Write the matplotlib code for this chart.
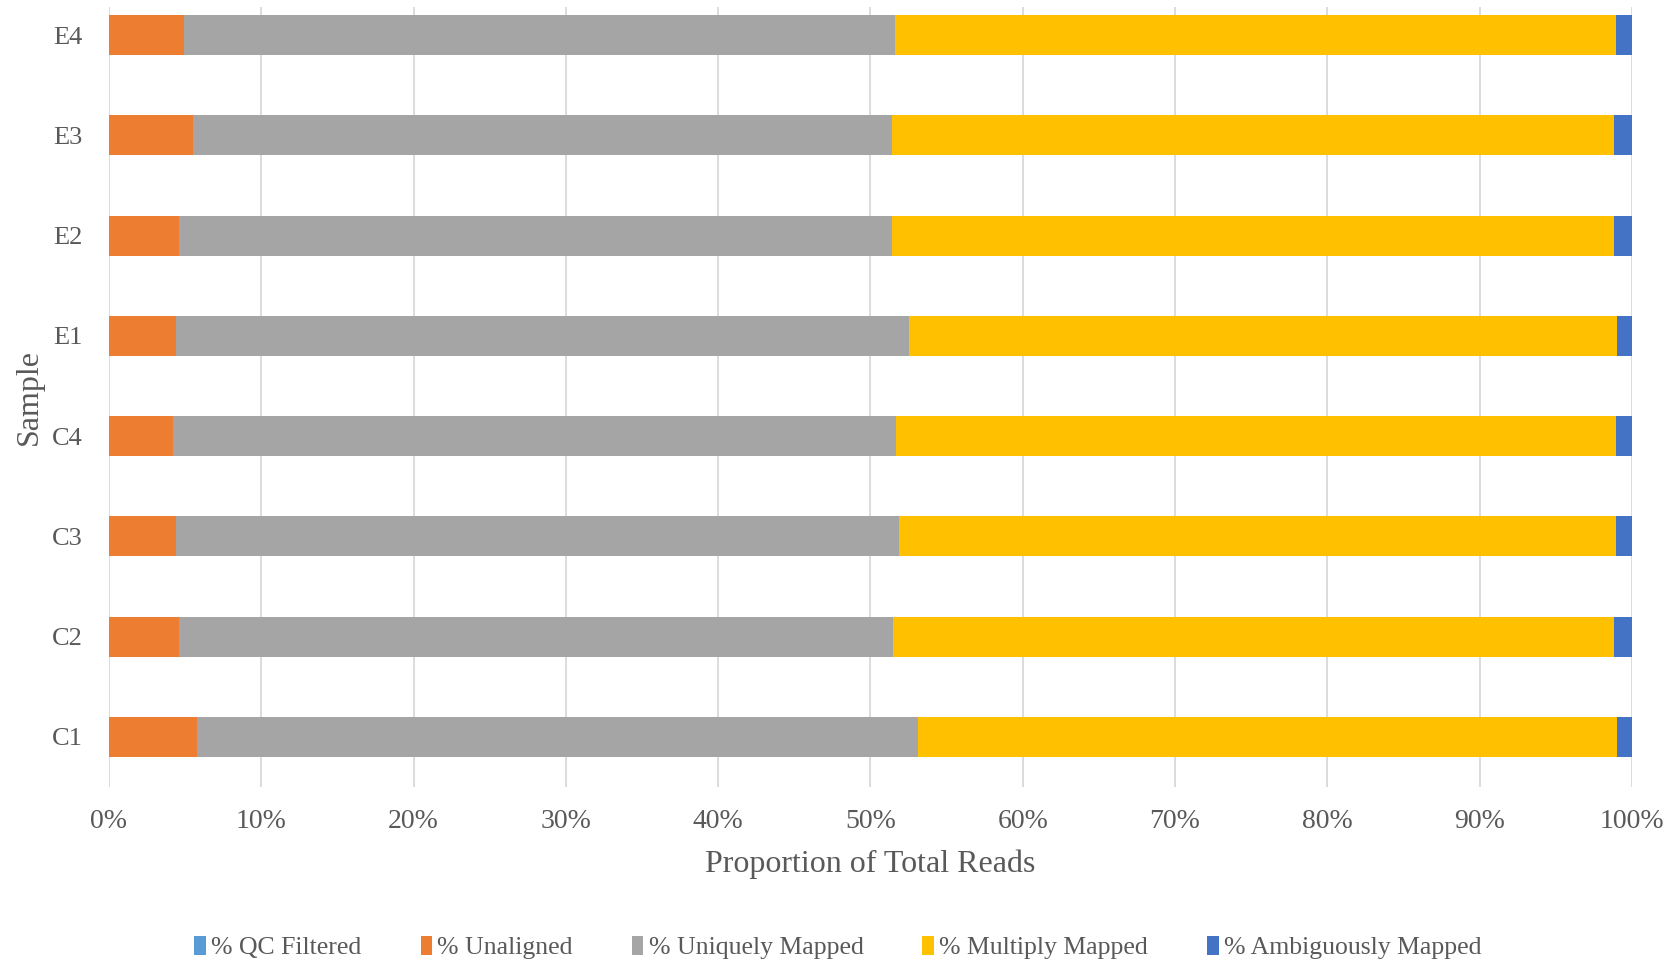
import matplotlib
matplotlib.use("Agg")
import matplotlib.pyplot as plt
import numpy as np

samples = ['C1', 'C2', 'C3', 'C4', 'E1', 'E2', 'E3', 'E4']
qc_filtered = [0.0, 0.0, 0.0, 0.0, 0.0, 0.0, 0.0, 0.0]
unaligned = [5.8, 4.6, 4.4, 4.2, 4.4, 4.6, 5.5, 4.9]
uniquely_mapped = [47.3, 46.9, 47.5, 47.5, 48.1, 46.8, 45.9, 46.7]
multiply_mapped = [45.9, 47.35, 47.05, 47.25, 46.5, 47.45, 47.45, 47.35]
ambiguously_mapped = [1.0, 1.15, 1.05, 1.05, 1.0, 1.15, 1.15, 1.05]

series_names = ['% QC Filtered', '% Unaligned', '% Uniquely Mapped',
                '% Multiply Mapped', '% Ambiguously Mapped']
series_vals = [qc_filtered, unaligned, uniquely_mapped, multiply_mapped, ambiguously_mapped]
colors = ['#5B9BD5', '#ED7D31', '#A5A5A5', '#FFC000', '#4472C4']

plt.rcParams['font.family'] = ['Liberation Serif', 'DejaVu Serif']
txt = '#595959'

fig = plt.figure(figsize=(16.69, 9.61), dpi=100)
ax = fig.add_axes([0.0653, 0.181, 0.9125, 0.8117])

y = np.arange(len(samples))
left = np.zeros(len(samples))
handles = []
for name, vals, c in zip(series_names, series_vals, colors):
    v = np.array(vals)
    b = ax.barh(y, v, left=left, height=0.4, color=c, label=name, zorder=3)
    handles.append(b)
    left = left + v

ax.set_xlim(0, 100)
ax.set_ylim(-0.5, 7.28)
ax.set_xticks(np.arange(0, 101, 10))
ax.set_xticklabels([f'{t}%' for t in range(0, 101, 10)])
ax.set_yticks(y)
ax.set_yticklabels(samples)
ax.tick_params(axis='both', length=0, colors=txt)
ax.tick_params(axis='x', pad=16, labelsize=20)
ax.tick_params(axis='y', pad=19, labelsize=19)
ax.grid(axis='x', color='#D9D9D9', linewidth=1.3, zorder=0)
ax.grid(axis='y', visible=False)
for s in ax.spines.values():
    s.set_visible(False)

ax.set_xlabel('Proportion of Total Reads', fontsize=23, color=txt, labelpad=11)
ax.set_ylabel('Sample', fontsize=23, color=txt, labelpad=6)

fig.legend(handles=handles, labels=series_names, loc='center', ncol=5,
           bbox_to_anchor=(0.502, 0.014), frameon=False, fontsize=18.5,
           handlelength=0.45, handleheight=0.75, handletextpad=0.2,
           columnspacing=2.3, labelcolor=txt)

fig.savefig('out.png', dpi=100, facecolor='white')
